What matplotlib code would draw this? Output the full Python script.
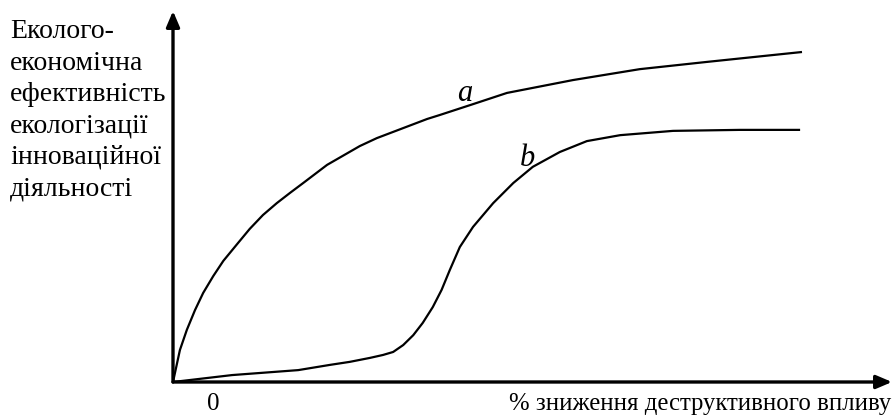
import matplotlib
matplotlib.use("Agg")
import matplotlib.pyplot as plt

# curve a: fast rise, slow saturation
a_x = [0, 1.1, 2.2, 3.5, 4.8, 6.4, 8.0, 10.2, 12.2, 14.3, 16.5, 18.6, 20.7,
       24.5, 29.7, 32.4, 40.4, 42.4, 47.7, 53.1, 63.6, 74.2, 84.9, 100]
a_y = [0, 9.7, 15.8, 21.8, 27.0, 32.1, 36.7, 41.8, 46.4, 50.6, 54.2, 57.3, 60.3,
       65.8, 71.5, 73.9, 79.7, 80.9, 84.2, 87.6, 91.5, 94.8, 97.0, 100]

# curve b: S-shaped
b_x = [0, 9.4, 19.9, 25.0, 28.1, 31.3, 33.4, 35.0, 36.6, 38.2, 39.7, 41.3, 42.7,
       44.0, 45.6, 47.7, 50.9, 54.1, 57.2, 61.5, 65.8, 71.1, 79.5, 90.1, 99.7]
b_y = [0, 2.1, 3.6, 5.2, 6.1, 7.3, 8.2, 9.1, 11.2, 14.2, 17.9, 22.7, 27.9,
       33.9, 40.9, 47.0, 54.2, 60.3, 65.2, 69.7, 73.0, 74.8, 76.1, 76.4, 76.4]

y_label_lines = ["Еколого-", "економічна", "ефективність", "екологізації",
                 "інноваційної", "діяльності"]
x_label = "% зниження деструктивного впливу"

W, H = 895, 416
fig = plt.figure(figsize=(W / 100, H / 100), dpi=100)
ax = fig.add_axes([0, 0, 1, 1])
# origin of the diagram sits at pixel (173, 382)
sx, sy = 6.29, 3.3
ax.set_xlim(-173 / sx, (W - 173) / sx)
ax.set_ylim((382 - H) / sy, 382 / sy)
ax.axis("off")

arrow = dict(arrowstyle="-|>,head_length=0.47,head_width=0.2", color="black",
             lw=2.4, mutation_scale=20, shrinkA=0, shrinkB=0)
ax.annotate("", xy=(0, (382 - 11) / sy), xytext=(0, 0), arrowprops=arrow)
ax.annotate("", xy=((892 - 173) / sx, 0), xytext=(0, 0), arrowprops=arrow)

ax.plot(a_x, a_y, color="black", lw=1.6, solid_capstyle="butt",
        solid_joinstyle="round")
ax.plot(b_x, b_y, color="black", lw=1.6, solid_capstyle="butt",
        solid_joinstyle="round")

serif = "Liberation Serif"
for i, line in enumerate(y_label_lines):
    fig.text(10 / W, 1 - (38 + i * 31.5) / H, line, family=serif, fontsize=20,
             va="baseline", ha="left")
fig.text(207 / W, 1 - 410 / H, "0", family=serif, fontsize=18, va="baseline")
fig.text(891 / W, 1 - 410 / H, x_label, family=serif, fontsize=17.8,
         va="baseline", ha="right")

fig.text(457 / W, 1 - 101 / H, "a", family=serif, style="italic", fontsize=22,
         va="baseline")
fig.text(520 / W, 1 - 166 / H, "b", family=serif, style="italic", fontsize=22,
         va="baseline")

fig.savefig("out.png", dpi=100)
